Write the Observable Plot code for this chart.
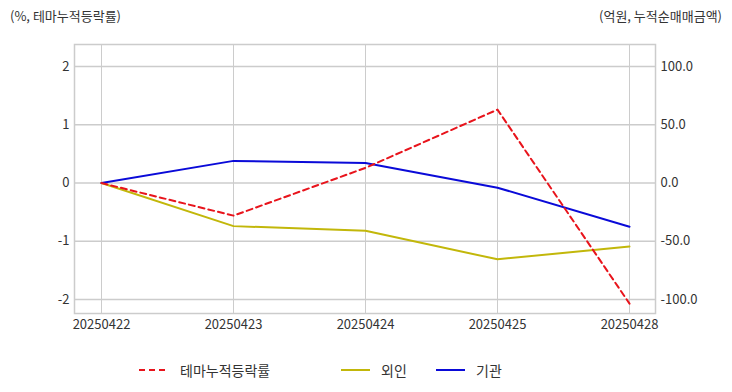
<!DOCTYPE html>
<html><head><meta charset="utf-8">
<script src="https://cdn.jsdelivr.net/npm/d3@7"></script>
<script src="https://cdn.jsdelivr.net/npm/@observablehq/plot@0.6"></script>
<style>
body{margin:0;background:#fff;font-family:"Noto Sans CJK KR","Noto Sans",sans-serif;}
#wrap{position:relative;width:732px;height:392px;}
.t{position:absolute;font-size:13px;color:#333;white-space:nowrap;}
#legend{position:absolute;top:360px;left:0;width:732px;height:20px;font-size:14px;color:#333;}
#legend span{position:absolute;top:0;line-height:20px;}
#legend svg{position:absolute;top:0;}
</style></head>
<body><div id="wrap">
<div class="t" style="left:10px;top:6px;">(%, 테마누적등락률)</div>
<div class="t" style="right:10px;top:6px;">(억원, 누적순매매금액)</div>
<div id="chart"></div>
<div id="legend"></div>
</div>
<script>
const dates = ["20250422","20250423","20250424","20250425","20250428"];
const themeRate = [0, -0.56, 0.26, 1.26, -2.07];      // %, left axis
const foreign = [0, -37, -41, -65.5, -54.5];            // 억원, right axis
const institution = [0, 19, 17.2, -4, -37.5];           // 억원, right axis
const leftTicks = [2, 1, 0, -1, -2];
const rightScale = 50; // right axis value per left unit

const seriesNames = ["테마누적등락률", "외인", "기관"];
const colors = ["#e8141c", "#c2b70a", "#0a0ad8"];

const themeData = dates.map((d,i)=>({date:d, v:themeRate[i]}));
const foreignData = dates.map((d,i)=>({date:d, v:foreign[i]/rightScale}));
const instData = dates.map((d,i)=>({date:d, v:institution[i]/rightScale}));

const chart = Plot.plot({
  width: 732, height: 340,
  marginTop: 44, marginBottom: 27, marginLeft: 74, marginRight: 77,
  style: {fontFamily: '"Noto Sans CJK KR","Noto Sans",sans-serif', fontSize: "13px", color: "#333", background: "#fff"},
  x: {type: "point", domain: dates, padding: 0.197},
  y: {domain: [-2.24, 2.378]},
  marks: [
    Plot.gridX(dates, {stroke: "#cccccc", strokeOpacity: 1, strokeWidth: 1}),
    Plot.gridY(leftTicks, {stroke: "#cccccc", strokeOpacity: 1, strokeWidth: 1.5}),
    Plot.frame({stroke: "#cccccc", strokeWidth: 1.5}),
    Plot.axisX(dates, {tickSize: 0, tickPadding: 6, fontSize: 13, fill: "#333", label: null}),
    Plot.axisY(leftTicks, {anchor: "left", tickSize: 0, tickPadding: 5, fontSize: 13, fill: "#333", label: null, tickFormat: d => d3.format("d")(d).replace("−","-")}),
    Plot.axisY(leftTicks, {anchor: "right", tickSize: 0, tickPadding: 5, fontSize: 13, fill: "#333", label: null, tickFormat: d => (d*rightScale).toFixed(1)}),
    Plot.line(foreignData, {x: "date", y: "v", stroke: colors[1], strokeWidth: 2}),
    Plot.line(instData, {x: "date", y: "v", stroke: colors[2], strokeWidth: 2}),
    Plot.line(themeData, {x: "date", y: "v", stroke: colors[0], strokeWidth: 2, strokeDasharray: "6,4"})
  ]
});
document.getElementById("chart").appendChild(chart);

// legend
const leg = document.getElementById("legend");
const items = [
  {name: seriesNames[0], color: colors[0], dash: "6,4", x: 139, tx: 180},
  {name: seriesNames[1], color: colors[1], dash: null, x: 341, tx: 381},
  {name: seriesNames[2], color: colors[2], dash: null, x: 436, tx: 476}
];
items.forEach(it => {
  const s = d3.create("svg").attr("width", 30).attr("height", 20).style("left", it.x + "px");
  s.append("line").attr("x1", 0).attr("x2", 29).attr("y1", 10).attr("y2", 10)
    .attr("stroke", it.color).attr("stroke-width", 2).attr("stroke-dasharray", it.dash);
  leg.appendChild(s.node());
  const t = document.createElement("span");
  t.textContent = it.name; t.style.left = it.tx + "px";
  leg.appendChild(t);
});
</script>
</body></html>
